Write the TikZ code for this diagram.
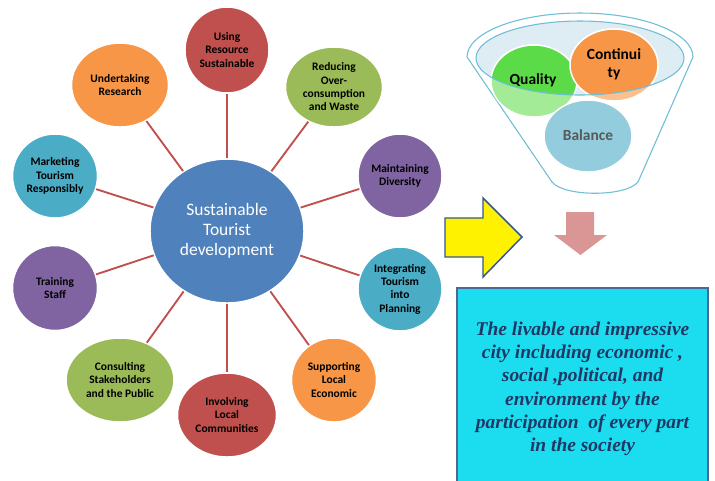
\documentclass[tikz,border=0pt]{standalone}
\usepackage{fontspec}
\setsansfont{Carlito}
\newfontfamily\goalfont{Liberation Serif}
\usepackage{xcolor}
\usetikzlibrary{shapes.geometric}

\definecolor{hubblue}{RGB}{79,129,189}
\definecolor{spokered}{RGB}{192,80,77}
\definecolor{offred}{RGB}{192,80,77}
\definecolor{offgreen}{RGB}{155,187,89}
\definecolor{offpurple}{RGB}{128,100,162}
\definecolor{offaqua}{RGB}{75,172,198}
\definecolor{offorange}{RGB}{247,150,70}
\definecolor{funnelline}{RGB}{110,190,214}
\definecolor{rimfill}{RGB}{222,236,243}
\definecolor{qualgreen}{RGB}{92,219,72}
\definecolor{qualpale}{RGB}{163,235,150}
\definecolor{contorange}{RGB}{247,150,70}
\definecolor{contpale}{RGB}{250,192,143}
\definecolor{balblue}{RGB}{147,205,221}
\definecolor{arrowedge}{RGB}{56,88,138}
\definecolor{pinkarrow}{RGB}{217,150,148}
\definecolor{goalcyan}{RGB}{28,221,240}
\definecolor{goaledge}{RGB}{74,104,146}
\definecolor{goalnavy}{RGB}{31,56,100}

\tikzset{
  satnode/.style={ellipse, draw=white, line width=1.1pt, inner sep=0pt, align=center, text=black, font=\sffamily\bfseries\fontsize{8.6}{10}\selectfont},
  hubnode/.style={ellipse, draw=white, line width=1.1pt, fill=hubblue, inner sep=0pt, align=center, text=white, font=\sffamily\fontsize{13.1}{15}\selectfont},
  spoke/.style={draw=spokered, line width=1.4pt},
  cupnode/.style={inner sep=0pt, align=center, font=\sffamily\bfseries\fontsize{11.6}{13.5}\selectfont},
  goalbox/.style={rectangle, draw=goaledge, fill=goalcyan, line width=1.1pt, inner sep=0pt, align=center, text=goalnavy, font=\goalfont\bfseries\itshape\fontsize{14.6}{17.5}\selectfont}
}

\begin{document}
\begin{tikzpicture}[x=0.75pt,y=0.75pt,yscale=-1,xscale=1]
\useasboundingbox (0,0) rectangle (715,480);

% hub and its ten circles
\draw (227,231) node [hubnode, minimum width=115.5pt, minimum height=108pt] (hub) {Sustainable\\Tourist\\development};
\draw (227,50) node [satnode, fill=offred, minimum width=63pt, minimum height=64.5pt] (resource) {Using\\Resource\\Sustainable};
\draw (334,87) node [satnode, fill=offgreen, minimum width=72.75pt, minimum height=60pt] (waste) {Reducing\\Over-\\consumption\\and Waste};
\draw (400,176) node [satnode, fill=offpurple, minimum width=63pt, minimum height=63pt] (diversity) {Maintaining\\Diversity};
\draw (400,289) node [satnode, fill=offaqua, minimum width=63pt, minimum height=63pt] (planning) {Integrating\\Tourism\\into\\Planning};
\draw (334,380) node [satnode, fill=offorange, minimum width=63.75pt, minimum height=63pt] (economic) {Supporting\\Local\\Economic};
\draw (227,415) node [satnode, fill=offred, minimum width=74.25pt, minimum height=63pt] (communities) {Involving\\Local\\Communities};
\draw (120,380) node [satnode, fill=offgreen, minimum width=81pt, minimum height=63pt] (stakeholders) {Consulting\\Stakeholders\\and the Public};
\draw (55,288) node [satnode, fill=offpurple, minimum width=63.75pt, minimum height=63.75pt] (training) {Training\\Staff};
\draw (55,176) node [satnode, fill=offaqua, minimum width=63.75pt, minimum height=63pt] (marketing) {Marketing\\Tourism\\Responsibly};
\draw (120,85) node [satnode, fill=offorange, minimum width=72.75pt, minimum height=63pt] (research) {Undertaking\\Research};

\draw [spoke] (hub) -- (resource) ;
\draw [spoke] (hub) -- (waste) ;
\draw [spoke] (hub) -- (diversity) ;
\draw [spoke] (hub) -- (planning) ;
\draw [spoke] (hub) -- (economic) ;
\draw [spoke] (hub) -- (communities) ;
\draw [spoke] (hub) -- (stakeholders) ;
\draw [spoke] (hub) -- (training) ;
\draw [spoke] (hub) -- (marketing) ;
\draw [spoke] (hub) -- (research) ;

% funnel
\draw [draw=funnelline, fill=white, line width=0.8pt] (467,57) arc [start angle=180, end angle=360, x radius=113, y radius=44] -- (638,182) .. controls (626,197) and (564,197) .. (552,182) -- cycle ;
\fill [rimfill] (580,58) ellipse [x radius=104, y radius=37] ;
\draw [draw=white, line width=1.1pt, fill=qualpale] (534,81) ellipse [x radius=43, y radius=36] ;
\draw [draw=white, line width=1.1pt, fill=contpale] (614,65) ellipse [x radius=44, y radius=36] ;
\draw [draw=white, line width=1.1pt, fill=balblue] (588,136) ellipse [x radius=44, y radius=36] ;
\begin{scope}
\clip (580,58) ellipse [x radius=104, y radius=37] ;
\draw [draw=white, line width=1.1pt, fill=qualgreen] (534,81) ellipse [x radius=43, y radius=36] ;
\draw [draw=white, line width=1.1pt, fill=contorange] (614,65) ellipse [x radius=44, y radius=36] ;
\end{scope}
\draw [draw=funnelline, line width=0.8pt] (580,58) ellipse [x radius=104, y radius=37] ;

\draw (533,80) node [cupnode, text=black] (quality) {Quality};
\draw (614,64) node [cupnode, text=black] (continuity) {Continui\\ty};
\draw (588,135) node [cupnode, text=black!65] (balance) {Balance};

% arrows
\draw [draw=arrowedge, fill=yellow, line width=1.1pt] (445,218) -- (483,218) -- (483,198) -- (522,237) -- (483,277) -- (483,257) -- (445,257) -- cycle ;
\fill [pinkarrow] (566,212) -- (594,212) -- (594,235) -- (607,235) -- (580.5,255) -- (554,235) -- (566,235) -- cycle ;

% result box
\draw (582.5,389) node [goalbox, minimum width=188.25pt, minimum height=151.5pt] (goal) {The livable and impressive\\city including economic ,\\social ,political, and\\environment by the\\participation\ \ of every part\\in the society};

\end{tikzpicture}
\end{document}
